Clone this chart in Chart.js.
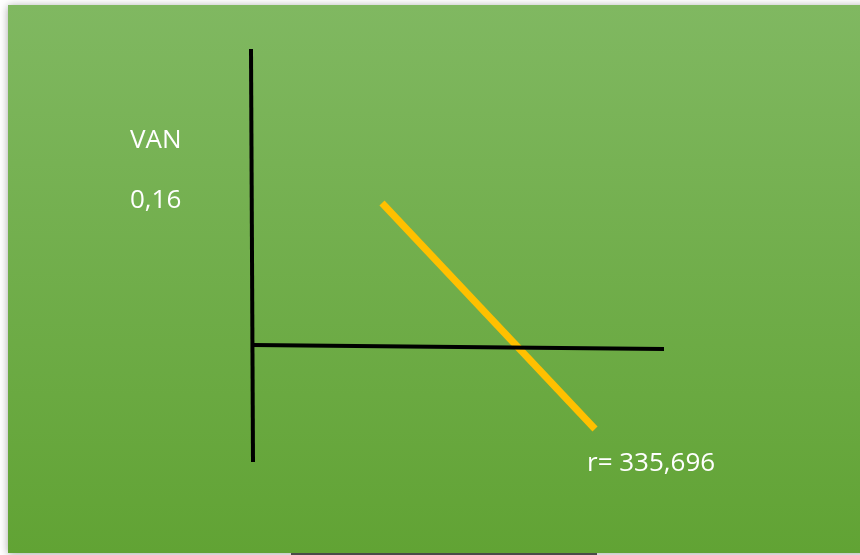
<!DOCTYPE html>
<html>
<head>
<meta charset="utf-8">
<script src="https://cdn.jsdelivr.net/npm/chart.js@4/dist/chart.umd.min.js"></script>
<style>
html,body{margin:0;padding:0;background:#ffffff;}
#wrap{width:860px;height:555px;position:relative;}
</style>
</head>
<body>
<div id="wrap"><canvas id="c" width="860" height="555"></canvas></div>
<script>
// Values (x = r axis units, y = VAN axis units)
const vanAxisX = [251, 253];
const vanAxisY = [506, 93];
const rAxisX = [253, 664];
const rAxisY = [210, 206];
const vanCurveX = [382, 595];
const vanCurveY = [352, 126];
const labels = ["VAN", "0,16", "r= 335,696"];

function pts(xs, ys){ return xs.map((x,i)=>({x:x, y:ys[i]})); }

const bgPlugin = {
  id: 'bg',
  beforeDraw(chart){
    const ctx = chart.ctx;
    ctx.save();
    ctx.fillStyle = '#ffffff';
    ctx.fillRect(0,0,chart.width,chart.height);
    ctx.shadowColor = 'rgba(0,0,0,0.35)';
    ctx.shadowBlur = 8;
    ctx.shadowOffsetX = 0;
    ctx.shadowOffsetY = 1;
    const g = ctx.createLinearGradient(0,5,0,553);
    g.addColorStop(0,'#80b861');
    g.addColorStop(1,'#61a334');
    ctx.fillStyle = g;
    ctx.fillRect(8,5,860,548);
    ctx.restore();
    ctx.save();
    ctx.fillStyle = '#4a4a4a';
    ctx.fillRect(291,553,306,2);
    ctx.restore();
  },
  afterDraw(chart){
    const ctx = chart.ctx;
    ctx.save();
    ctx.fillStyle = '#ffffff';
    ctx.font = '26px "Open Sans", sans-serif';
    ctx.textBaseline = 'alphabetic';
    ctx.fillText(labels[0], 130, 148);
    ctx.fillText(labels[1], 130, 208);
    ctx.fillText(labels[2], 587, 471);
    ctx.restore();
  }
};

new Chart(document.getElementById('c'), {
  type: 'scatter',
  data: {
    datasets: [
      {data: pts(vanAxisX, vanAxisY), showLine: true, borderColor: '#000000', borderWidth: 4, pointRadius: 0, borderCapStyle: 'butt'},
      {data: pts(rAxisX, rAxisY), showLine: true, borderColor: '#000000', borderWidth: 4, pointRadius: 0, borderCapStyle: 'butt'},
      {data: pts(vanCurveX, vanCurveY), showLine: true, borderColor: '#ffc000', borderWidth: 7, pointRadius: 0, borderCapStyle: 'butt'}
    ]
  },
  options: {
    responsive: false,
    devicePixelRatio: 1,
    animation: false,
    layout: {padding: 0},
    plugins: {legend: {display: false}, tooltip: {enabled: false}},
    scales: {
      x: {type: 'linear', display: false, min: 0, max: 860},
      y: {type: 'linear', display: false, min: 0, max: 555}
    }
  },
  plugins: [bgPlugin]
});
</script>
</body>
</html>
